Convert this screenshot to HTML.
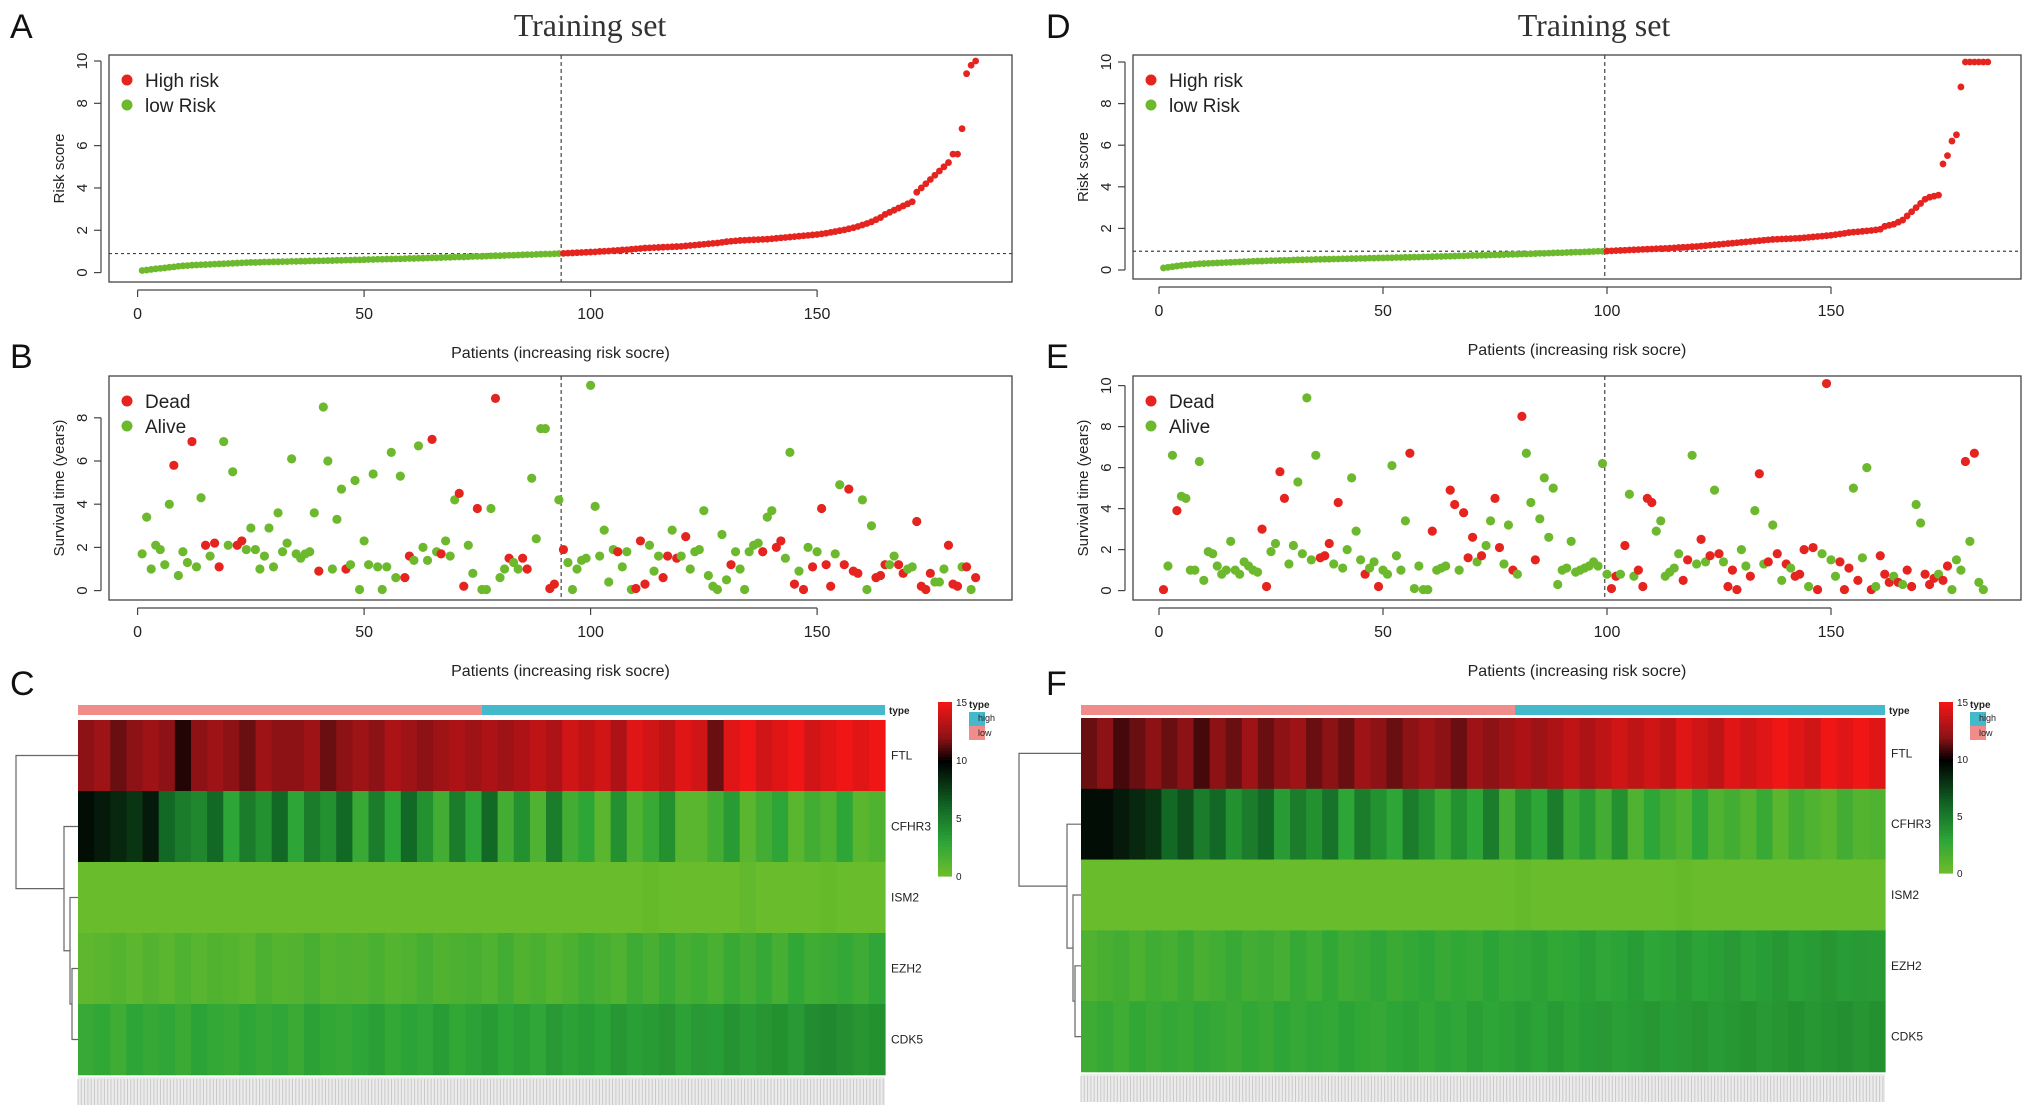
<!DOCTYPE html>
<html><head><meta charset="utf-8">
<style>
html,body{margin:0;padding:0;background:#fff;}
svg{display:block;font-family:"Liberation Sans",sans-serif;}
</style></head>
<body>
<svg id="fig" width="2031" height="1116" viewBox="0 0 2031 1116" xmlns="http://www.w3.org/2000/svg"></svg>
<script>
// ===== DATA =====
const riskA = [0.1,0.12,0.15,0.18,0.2,0.22,0.25,0.27,0.3,0.32,.33,.35,.36,.37,.38,.39,.4,.41,.42,.43,.44,.45,.46,.47,.48,.48,.49,.5,.5,.51,.51,.52,.52,.53,.53,.54,.54,.55,.55,.56,.56,.57,.57,.58,.58,.59,.59,.6,.6,.61,.62,.62,.63,.63,.64,.64,.65,.65,.66,.67,.67,.68,.68,.69,.7,.7,.71,.72,.72,.73,.74,.74,.75,.76,.77,.77,.78,.79,.8,.8,.81,.82,.82,.83,.84,.85,.85,.86,.87,.88,.88,.89,.9,.91,.92,.93,.94,.95,.96,.97,.98,1,1.01,1.02,1.04,1.05,1.07,1.08,1.1,1.12,1.14,1.16,1.17,1.18,1.19,1.2,1.21,1.22,1.23,1.24,1.26,1.28,1.3,1.32,1.34,1.36,1.38,1.4,1.43,1.46,1.48,1.5,1.52,1.53,1.54,1.55,1.56,1.57,1.58,1.6,1.62,1.64,1.66,1.68,1.7,1.72,1.74,1.76,1.78,1.8,1.83,1.86,1.9,1.94,1.98,2.02,2.07,2.12,2.18,2.25,2.32,2.4,2.5,2.6,2.75,2.85,2.95,3.05,3.15,3.25,3.35,3.8,4.0,4.2,4.4,4.6,4.8,5.0,5.2,5.6,5.6,6.8,9.4,9.8,10.0];
const cutA = 93;
const riskD = [0.1,0.13,0.16,0.19,0.22,0.24,0.26,0.28,0.3,0.31,.32,.33,.34,.35,.36,.37,.38,.39,.4,.41,.42,.43,.43,.44,.45,.45,.46,.47,.47,.48,.49,.49,.5,.5,.51,.51,.52,.52,.53,.53,.54,.54,.55,.55,.56,.56,.57,.57,.58,.58,.59,.59,.6,.6,.61,.61,.62,.62,.63,.63,.64,.65,.65,.66,.66,.67,.68,.68,.69,.7,.7,.71,.71,.72,.73,.73,.74,.75,.75,.76,.77,.77,.78,.79,.8,.8,.81,.82,.83,.83,.84,.85,.86,.86,.87,.88,.89,.9,.9,.91,.92,.93,.94,.95,.96,.97,.98,.99,1,1.01,1.02,1.03,1.04,1.05,1.06,1.08,1.09,1.1,1.12,1.13,1.15,1.17,1.19,1.21,1.23,1.25,1.27,1.29,1.31,1.33,1.35,1.37,1.39,1.41,1.43,1.45,1.47,1.48,1.49,1.5,1.51,1.52,1.53,1.55,1.57,1.59,1.61,1.63,1.65,1.67,1.7,1.73,1.76,1.8,1.82,1.84,1.86,1.88,1.9,1.93,1.96,2.1,2.15,2.2,2.3,2.4,2.6,2.8,3.0,3.2,3.4,3.5,3.55,3.6,5.1,5.5,6.2,6.5,8.8,10,10,10,10,10,10];
const cutD = 99;
const survA = [1.7,3.4,1.0,2.1,1.9,1.2,4.0,5.8,0.7,1.8,1.3,6.9,1.1,4.3,2.1,1.6,2.2,1.1,6.9,2.1,5.5,2.1,2.3,1.9,2.9,1.9,1.0,1.6,2.9,1.1,3.6,1.8,2.2,6.1,1.7,1.5,1.7,1.8,3.6,0.9,8.5,6.0,1.0,3.3,4.7,1.0,1.2,5.1,0.05,2.3,1.2,5.4,1.1,0.05,1.1,6.4,0.6,5.3,0.6,1.6,1.4,6.7,2.0,1.4,7.0,1.8,1.7,2.3,1.6,4.2,4.5,0.2,2.1,0.8,3.8,0.05,0.05,3.8,8.9,0.6,1.0,1.5,1.3,1.0,1.5,1.0,5.2,2.4,7.5,7.5,0.1,0.3,4.2,1.9,1.3,0.05,1.0,1.4,1.5,9.5,3.9,1.6,2.8,0.4,1.9,1.8,1.1,1.8,0.05,0.1,2.3,0.3,2.1,0.9,1.6,0.6,1.6,2.8,1.5,1.6,2.5,1.0,1.8,1.9,3.7,0.7,0.2,0.05,2.6,0.5,1.2,1.8,1.0,0.05,1.8,2.1,2.2,1.8,3.4,3.7,2.0,2.3,1.5,6.4,0.3,0.9,0.05,2.0,1.1,1.8,3.8,1.2,0.2,1.7,4.9,1.2,4.7,0.9,0.8,4.2,0.05,3.0,0.6,0.7,1.2,1.2,1.6,1.2,0.8,1.0,1.1,3.2,0.2,0.05,0.8,0.4,0.4,1.0,2.1,0.3,0.2,1.1,1.1,0.05,0.6];
const deadA = [0,0,0,0,0,0,0,1,0,0,0,1,0,0,1,0,1,1,0,0,0,1,1,0,0,0,0,0,0,0,0,0,0,0,0,0,0,0,0,1,0,0,0,0,0,1,0,0,0,0,0,0,0,0,0,0,0,0,1,1,0,0,0,0,1,0,1,0,0,0,1,1,0,0,1,0,0,0,1,0,0,1,0,0,1,1,0,0,0,0,1,1,0,1,0,0,0,0,0,0,0,0,0,0,0,1,0,0,0,1,1,1,0,0,0,1,1,0,1,0,1,0,0,0,0,0,0,0,0,0,1,0,0,0,0,0,0,1,0,0,1,1,0,0,1,0,1,0,1,0,1,1,1,0,0,1,1,1,1,0,0,0,1,1,1,0,0,1,1,0,0,1,1,1,1,0,0,0,1,1,1,0,1,0,1];
const survD = [0.05,1.2,6.6,3.9,4.6,4.5,1.0,1.0,6.3,0.5,1.9,1.8,1.2,0.8,1.0,2.4,1.0,0.8,1.4,1.2,1.0,0.9,3.0,0.2,1.9,2.3,5.8,4.5,1.3,2.2,5.3,1.8,9.4,1.5,6.6,1.6,1.7,2.3,1.3,4.3,1.1,2.0,5.5,2.9,1.5,0.8,1.1,1.4,0.2,1.0,0.8,6.1,1.7,1.0,3.4,6.7,0.1,1.2,0.05,0.05,2.9,1.0,1.1,1.2,4.9,4.2,1.0,3.8,1.6,2.6,1.4,1.7,2.2,3.4,4.5,2.1,1.3,3.2,1.0,0.8,8.5,6.7,4.3,1.5,3.5,5.5,2.6,5.0,0.3,1.0,1.1,2.4,0.9,1.0,1.1,1.2,1.4,1.2,6.2,0.8,0.1,0.7,0.8,2.2,4.7,0.7,1.0,0.2,4.5,4.3,2.9,3.4,0.7,0.9,1.1,1.8,0.5,1.5,6.6,1.3,2.5,1.4,1.7,4.9,1.8,1.4,0.2,1.0,0.05,2.0,1.2,0.7,3.9,5.7,1.3,1.4,3.2,1.8,0.5,1.3,1.1,0.7,0.8,2.0,0.2,2.1,0.05,1.8,10.1,1.5,0.7,1.4,0.05,1.1,5.0,0.5,1.6,6.0,0.05,0.2,1.7,0.8,0.4,0.7,0.4,0.3,1.0,0.2,4.2,3.3,0.8,0.3,0.6,0.8,0.5,1.2,0.05,1.5,1.0,6.3,2.4,6.7,0.4,0.05];
const deadD = [1,0,0,1,0,0,0,0,0,0,0,0,0,0,0,0,0,0,0,0,0,0,1,1,0,0,1,1,0,0,0,0,0,0,0,1,1,1,0,1,0,0,0,0,0,1,0,0,1,0,0,0,0,0,0,1,0,0,0,0,1,0,0,0,1,1,0,1,1,1,0,1,0,0,1,1,0,0,1,0,1,0,0,1,0,0,0,0,0,0,0,0,0,0,0,0,0,0,0,0,1,1,0,1,0,0,1,1,1,1,0,0,0,0,0,0,1,1,0,0,1,0,1,0,1,0,1,1,1,0,0,1,0,1,0,1,0,1,0,1,0,1,1,1,0,1,1,0,1,0,0,1,1,1,0,1,0,0,1,0,1,1,1,0,1,0,1,1,0,0,1,1,1,0,1,1,0,0,0,1,0,1];
const genes = ["FTL","CFHR3","ISM2","EZH2","CDK5"];
const heatA_FTL   = [12,12.5,11.5,12,12.5,12,10.5,12,12.5,12,11.5,12.5,12,12,12.5,11.5,12,12.5,12,13,12.5,12,12.5,13,12.5,13,12.5,13,13.5,13,14,13.5,14,13,14.5,14,13.5,14.5,14,11.5,14.5,15,14,14.5,15,14,14.5,15,14.5,15];
const heatA_CFHR3 = [9.5,9,8.5,8,9,6,5,4.5,6,3,5,4,6,3,5,4,6,2.5,5,3,6,4,2,5,3,6,2,4,1.5,5,2,3,1,4,1.5,2.5,4,1,1,2,3.5,1,2,3,1,2,1.5,3,1,1.5];
const heatA_ISM2  = [0.3,0.3,0.3,0.3,0.3,0.3,0.3,0.3,0.3,0.3,0.3,0.3,0.3,0.3,0.3,0.3,0.3,0.3,0.3,0.3,0.3,0.3,0.3,0.3,0.3,0.3,0.3,0.3,0.3,0.3,0.3,0.3,0.3,0.3,0.3,0.5,0.3,0.3,0.3,0.3,0.3,0.6,0.3,0.3,0.3,0.3,0.5,0.3,0.3,0.3];
const heatA_EZH2  = [0.8,1,1.2,0.9,1.3,1,1.5,1.1,1.4,1.2,1,1.6,1.2,1.3,1.8,1.2,1.5,1.3,1.7,1.2,1.5,1.9,1.4,1.6,1.8,1.5,2,1.4,1.7,1.2,1.6,2.2,1.8,1.5,2.3,1.8,2.5,1.9,2.2,1.7,2.5,2,2.6,1.9,2.8,2.2,2.4,2.7,2.3,2.9];
const heatA_CDK5  = [2.5,2.8,2.2,3,2.6,2.9,2.4,3.1,2.7,2.5,3,2.6,2.9,2.4,3.2,2.8,2.6,3,3.3,2.7,3.1,2.9,3.4,2.8,3.2,3.5,3,3.3,2.9,3.6,3.2,3.4,3.1,3.7,3.3,3.5,3.8,3.2,3.6,3.4,3.9,3.5,3.8,4,3.6,4.2,4.4,4.1,3.8,4];
const heatD_FTL   = [11.5,12,11,11.5,12,11.5,12,11,12,11.5,12.5,11.5,12,12.5,11.5,12,11.5,12.5,12,11.5,12,12.5,12,11.5,12.5,12,12.5,13,12.5,13,13.5,13,13.5,14,13.5,14,13.5,14.5,14,13.5,14.5,14,14.5,15,14.5,14,15,14.5,15,14.5];
const heatD_CFHR3 = [9.5,9.5,9,8.5,8,6,7,5,6,4,5,6,3.5,5,4,5.5,3,5,4,3,5,4,2.5,4,3,5,2,4,3,5,2.5,3.5,2,4,1.5,3,2,1.5,3,1.5,2,1.2,2.5,1,2,1.5,1,2,1.2,1.5];
const heatD_ISM2  = [0.3,0.3,0.3,0.3,0.3,0.3,0.3,0.3,0.3,0.3,0.3,0.3,0.3,0.3,0.3,0.3,0.3,0.3,0.3,0.3,0.3,0.3,0.3,0.3,0.3,0.3,0.3,0.5,0.3,0.3,0.3,0.3,0.3,0.3,0.3,0.3,0.3,0.5,0.3,0.3,0.3,0.3,0.3,0.3,0.3,0.3,0.3,0.3,0.3,0.3];
const heatD_EZH2  = [1.5,1.8,2,1.6,2.2,1.9,2.4,1.8,2.1,2.5,2,2.3,1.9,2.6,2.2,2.8,2.3,2.5,2.9,2.4,2.7,3,2.5,2.8,2.6,3.1,2.7,2.9,3.2,2.8,3,3.3,2.9,3.1,3.4,3,3.2,3.5,3.1,3.3,3.6,3.2,3.4,3.7,3.3,3.5,3.8,3.4,3.6,3.5];
const heatD_CDK5  = [2.3,2.6,2.2,2.8,2.4,2.7,2.5,2.9,2.6,2.4,2.8,2.5,3,2.6,2.9,2.7,3.1,2.8,2.6,3,3.2,2.8,3.1,2.9,3.3,3,3.2,3.4,3.1,3.5,3.2,3.4,3.6,3.3,3.5,3.7,3.4,3.6,3.8,3.5,3.7,3.9,3.6,3.8,4,3.7,3.9,4.1,3.8,4];
const xTicks = [0,50,100,150];
const riskTicks = [0,2,4,6,8,10];
const survTicksA = [0,2,4,6,8];
const survTicksD = [0,2,4,6,8,10];
const keyTicks = [0,5,10,15];

// ===== HELPERS =====
const svg = document.getElementById('fig');
const NS = 'http://www.w3.org/2000/svg';
function mk(tag, attrs, parent){
  const e = document.createElementNS(NS, tag);
  for (const k in attrs) e.setAttribute(k, attrs[k]);
  (parent||svg).appendChild(e);
  return e;
}
function txt(s, attrs, parent){ const t = mk('text', attrs, parent); t.textContent = s; return t; }
const RED = '#e5241f', GREEN = '#6cb92e';

function scatter(o){
  const g = mk('g', {});
  
  
  const sx = v => o.x0 + (v - 0) * o.kx;
  const sy = v => o.y0 - v * o.ky;
  const box = mk('rect', {x:o.bx, y:o.by, width:o.bw, height:o.bh, fill:'none', stroke:'#444', 'stroke-width':1.3}, g);
  
  
  const ax = mk('g', {}, g);
  
  
  const ay0 = o.by + o.bh + 8;
  mk('line', {x1:sx(xTicks[0]), x2:sx(xTicks[xTicks.length-1]), y1:ay0, y2:ay0, stroke:'#444', 'stroke-width':1.2}, ax);
  xTicks.forEach(t=>{
    mk('line', {x1:sx(t), x2:sx(t), y1:ay0, y2:ay0+7, stroke:'#444', 'stroke-width':1.2}, ax);
    const l = txt(String(t), {x:sx(t), y:ay0+29, 'text-anchor':'middle', 'font-size':16, fill:'#222'}, ax);
    
    
  });
  const xl = txt('Patients (increasing risk socre)', {x:(o.bx+o.bw/2), y:o.by+o.bh+76, 'text-anchor':'middle', 'font-size':16, fill:'#222'}, g);
  
  
  const yx = o.bx - 8;
  const yaxg = mk('g', {}, g);
  
  
  mk('line', {x1:yx, x2:yx, y1:sy(o.yTicks[0]), y2:sy(o.yTicks[o.yTicks.length-1]), stroke:'#444', 'stroke-width':1.2}, yaxg);
  o.yTicks.forEach(t=>{
    mk('line', {x1:yx-7, x2:yx, y1:sy(t), y2:sy(t), stroke:'#444', 'stroke-width':1.2}, yaxg);
    const l = txt(String(t), {x:0, y:0, 'text-anchor':'middle', 'font-size':15, fill:'#222', transform:`translate(${yx-14},${sy(t)}) rotate(-90)`}, yaxg);
    
    
  });
  const yl = txt(o.ylab, {x:0, y:0, 'text-anchor':'middle', 'font-size':15, fill:'#222', transform:`translate(${o.bx-45},${o.by+o.bh/2}) rotate(-90)`}, g);
  
  
  const vl = mk('line', {x1:sx(o.cut+0.5), x2:sx(o.cut+0.5), y1:o.by, y2:o.by+o.bh, stroke:'#444', 'stroke-width':1.2, 'stroke-dasharray':'4,3'}, g);
  
  
  if (o.hline !== undefined){
    const hl = mk('line', {x1:o.bx, x2:o.bx+o.bw, y1:sy(o.hline), y2:sy(o.hline), stroke:'#444', 'stroke-width':1.2, 'stroke-dasharray':'3,3'}, g);
    
    
  }
  o.vals.forEach((v,i)=>{
    const c = mk('circle', {cx:sx(i+1), cy:sy(v), r:o.r, fill:o.color(i)}, g);
    
    
  });
  const lg = mk('g', {}, g);
  
  
  o.legend.forEach((L,k)=>{
    const ly = o.by + 25 + k*25;
    const e = mk('g', {}, lg);
    
    
    mk('circle', {cx:o.bx+18, cy:ly, r:5.5, fill:L[1]}, e);
    txt(L[0], {x:o.bx+36, y:ly+7, 'font-size':19, fill:'#222'}, e);
  });
}

function hcolor(v){
  const stops = [[0,[112,190,42]],[3,[45,165,55]],[6,[18,105,38]],[10,[0,0,0]],[12,[140,18,22]],[15,[240,22,22]]];
  v = Math.max(0, Math.min(15, v));
  for (let i=0;i<stops.length-1;i++){
    const [a,ca]=stops[i],[b,cb]=stops[i+1];
    if (v<=b){ const t=(v-a)/(b-a); return 'rgb('+ca.map((c,j)=>Math.round(c+(cb[j]-c)*t)).join(',')+')'; }
  }
  return 'rgb(240,22,22)';
}

function heatmap(o){
  const g = mk('g', {});
  
  
  const W = o.x1 - o.x0;
  const tl = mk('rect', {x:o.x0, y:o.ty, width:o.split-o.x0, height:o.th, fill:'#f08c8a'}, g);
  
  
  const thh = mk('rect', {x:o.split, y:o.ty, width:o.x1-o.split, height:o.th, fill:'#45b9cc'}, g);
  
  
  txt('type', {x:o.x1+4, y:o.ty+9, 'font-size':10, 'font-weight':'bold', fill:'#222'}, g);
  const rh = (o.y1 - o.y0) / o.rows.length;
  o.rows.forEach((row, r)=>{
    const rg = mk('g', {}, g);
    
    
    const cw = W / row.length;
    row.forEach((v,c)=>{
      const cell = mk('rect', {x:o.x0 + c*cw, y:o.y0 + r*rh, width:cw+0.6, height:rh+0.3, fill:hcolor(v)}, rg);
      
      
    });
    const l = txt(genes[r], {x:o.x1+6, y:o.y0 + r*rh + rh/2 + 4, 'font-size':12, fill:'#222'}, g);
    
    
  });
  const sb = mk('g', {}, g);
  
  
  mk('rect', {x:o.x0, y:o.y1+2, width:W, height:28, fill:'#ececec'}, sb);
  for (let i=0;i<W;i+=3.3) mk('line', {x1:o.x0+i, x2:o.x0+i, y1:o.y1+4, y2:o.y1+30, stroke:'#c9c9c9', 'stroke-width':1}, sb);
  const dg = mk('g', {fill:'none', stroke:'#666', 'stroke-width':1.2}, g);
  
  
  const yc = r => o.y0 + r*rh + rh/2;
  const d = o.x0;
  const e1 = d-6, e2 = d-8, e3 = d-22, e4 = d-62;
  const m34 = (yc(3)+yc(4))/2, m234 = (yc(2)+m34)/2, m1234=(yc(1)+m234)/2;
  mk('path', {d:`M${d} ${yc(3)}H${e1}V${yc(4)}H${d} M${d} ${yc(2)}H${e2}V${m34}H${e1} M${d} ${yc(1)}H${e3+8}V${m234}H${e2} M${d} ${yc(0)}H${e4}V${m1234}H${e3+8}`}, dg);
  const kg = mk('g', {}, g);
  
  
  const kh = o.ky1 - o.ky0;
  for (let i=0;i<60;i++){
    const v = 15 - i*15/60;
    mk('rect', {x:o.kx, y:o.ky0 + i*kh/60, width:14, height:kh/60+0.6, fill:hcolor(v)}, kg);
  }
  keyTicks.forEach(t=>{
    txt(String(t), {x:o.kx+18, y:o.ky1 - t/15*kh + 4, 'font-size':10, fill:'#222'}, kg);
  });
  txt('type', {x:o.kx+31, y:o.ky0+6, 'font-size':10, 'font-weight':'bold', fill:'#222'}, kg);
  mk('rect', {x:o.kx+31, y:o.ky0+10, width:16, height:14, fill:'#45b9cc'}, kg);
  mk('rect', {x:o.kx+31, y:o.ky0+24, width:16, height:14, fill:'#f08c8a'}, kg);
  txt('high', {x:o.kx+40, y:o.ky0+19, 'font-size':9, fill:'#222'}, kg);
  txt('low', {x:o.kx+40, y:o.ky0+34, 'font-size':9, fill:'#222'}, kg);
}

[['A',10,38],['B',10,368],['C',10,695],['D',1046,38],['E',1046,368],['F',1046,695]].forEach(p=>{
  const t = txt(p[0], {x:p[1], y:p[2], 'font-size':34, fill:'#111'});
  
  
});
[[590],[1594]].forEach(p=>{
  const t = txt('Training set', {x:p[0], y:36, 'text-anchor':'middle', 'font-size':32, 'font-family':'"Liberation Serif",serif', fill:'#333'});
  
  
});

scatter({name:'risk-score-plot-a', bx:109, by:55, bw:903, bh:227, x0:137.6, kx:4.53, y0:272.6, ky:21.16, yTicks:riskTicks, ylab:'Risk score', cut:cutA, hline:riskA[cutA-1], vals:riskA, r:3.4, color:i=> i<cutA?GREEN:RED, legend:[['High risk',RED],['low Risk',GREEN]]});
scatter({name:'survival-plot-b', bx:109, by:376, bw:903, bh:224, x0:137.6, kx:4.53, y0:590.6, ky:21.6, yTicks:survTicksA, ylab:'Survival time (years)', cut:cutA, vals:survA, r:4.6, color:i=> deadA[i]?RED:GREEN, legend:[['Dead',RED],['Alive',GREEN]]});
scatter({name:'risk-score-plot-d', bx:1133, by:55, bw:888, bh:224, x0:1159, kx:4.48, y0:270, ky:20.8, yTicks:riskTicks, ylab:'Risk score', cut:cutD, hline:riskD[cutD-1], vals:riskD, r:3.4, color:i=> i<cutD?GREEN:RED, legend:[['High risk',RED],['low Risk',GREEN]]});
scatter({name:'survival-plot-e', bx:1133, by:376, bw:888, bh:224, x0:1159, kx:4.48, y0:590.6, ky:20.5, yTicks:survTicksD, ylab:'Survival time (years)', cut:cutD, vals:survD, r:4.6, color:i=> deadD[i]?RED:GREEN, legend:[['Dead',RED],['Alive',GREEN]]});

heatmap({name:'heatmap-c', x0:78, x1:885, split:482, ty:705, th:10, y0:720, y1:1075, rows:[heatA_FTL,heatA_CFHR3,heatA_ISM2,heatA_EZH2,heatA_CDK5], kx:938, ky0:702, ky1:876});
heatmap({name:'heatmap-f', x0:1081, x1:1885, split:1515, ty:705, th:10, y0:718, y1:1072, rows:[heatD_FTL,heatD_CFHR3,heatD_ISM2,heatD_EZH2,heatD_CDK5], kx:1939, ky0:702, ky1:873});
</script>
</body></html>
